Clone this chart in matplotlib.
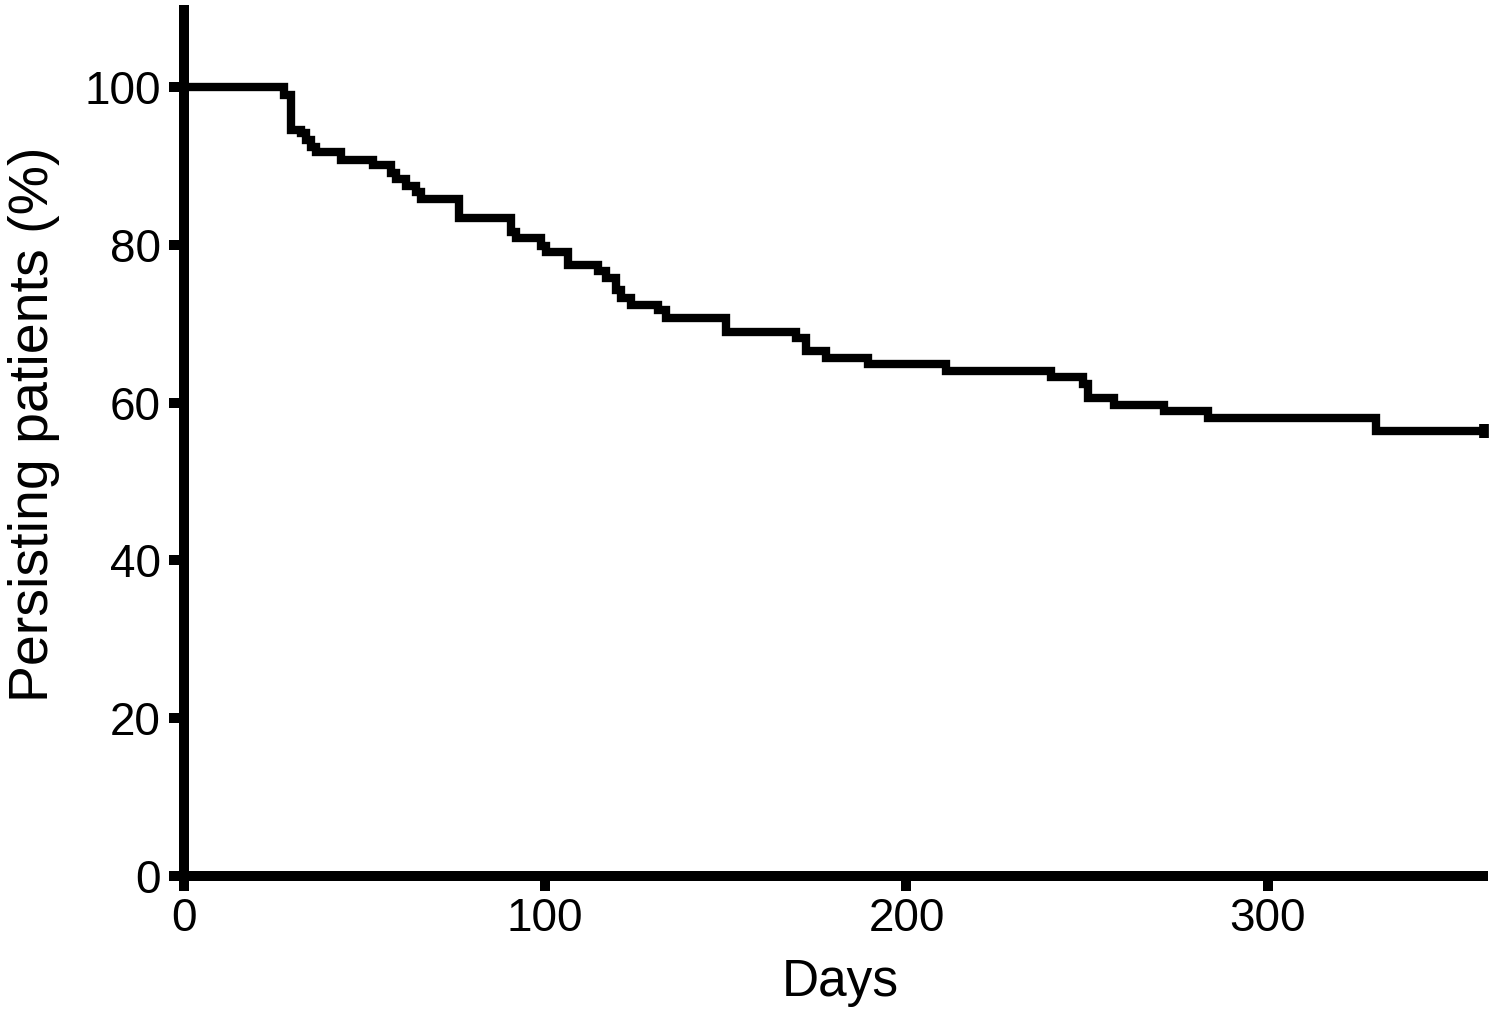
import matplotlib
matplotlib.use('Agg')
import matplotlib.pyplot as plt

plt.rcParams['font.family'] = ['Liberation Sans', 'DejaVu Sans']

# Kaplan-Meier style persistence curve (step post)
days = [0, 27.6, 29.5, 32.3, 33.7, 35.1, 36.5, 43.4, 52.3, 57.2, 58.6, 61.4, 64.2,
        65.5, 76.1, 90.5, 91.9, 98.8, 100.2, 106.2, 114.6, 116.8, 119.5, 120.9,
        123.7, 131.2, 133.4, 150.0, 169.4, 172.2, 177.7, 189.3, 210.9, 240.0,
        248.9, 250.2, 257.5, 271.3, 283.5, 330.0, 360.0]
persisting = [100, 99.0, 94.6, 94.2, 93.3, 92.4, 91.7, 90.8, 90.1, 89.1, 88.3, 87.4,
              86.7, 85.8, 83.4, 81.6, 80.8, 79.9, 79.1, 77.5, 76.7, 75.8, 74.3, 73.3,
              72.4, 71.7, 70.7, 69.0, 68.2, 66.5, 65.7, 64.9, 64.0, 63.2, 62.4, 60.6,
              59.7, 58.9, 58.1, 56.4, 56.4]

xticks = [0, 100, 200, 300]
yticks = [0, 20, 40, 60, 80, 100]

fig = plt.figure(figsize=(14.94, 10.22), dpi=100)
ax = fig.add_axes([184 / 1494, 146.2 / 1022, 1304 / 1494, 870.8 / 1022])

ax.step(days, persisting, where='post', color='black', linewidth=6, solid_joinstyle='miter')
ax.plot(days[-1], persisting[-1], marker='|', color='black', markersize=10, markeredgewidth=7)

ax.set_xlim(0, 361)
ax.set_ylim(0, 110.4)
ax.set_xticks(xticks)
ax.set_yticks(yticks)

for side in ['top', 'right']:
    ax.spines[side].set_visible(False)
for side in ['left', 'bottom']:
    ax.spines[side].set_linewidth(7.2)
    ax.spines[side].set_capstyle('butt')

ax.tick_params(axis='both', direction='out', length=10.5, width=7.2, labelsize=33, color='black')
ax.tick_params(axis='x', pad=5)
ax.tick_params(axis='y', pad=6)

ax.set_xlabel('Days', fontsize=37)
ax.set_ylabel('Persisting patients (%)', fontsize=40)
ax.xaxis.set_label_coords(0.503, -0.094)
ax.yaxis.set_label_coords(-0.095, 0.518)

fig.savefig('out.png', dpi=100)
